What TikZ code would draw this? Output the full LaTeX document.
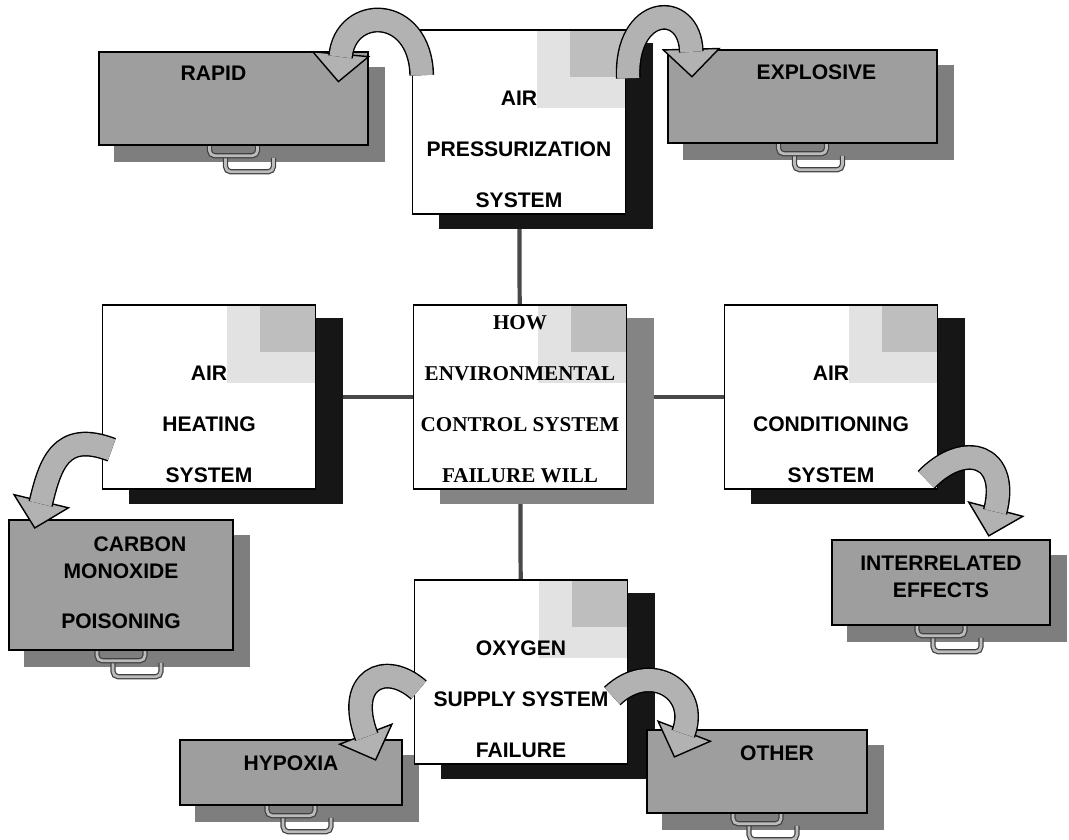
\documentclass[tikz,border=0pt]{standalone}
\usepackage{fontspec}
\setmainfont{Liberation Sans}
\newfontfamily\hubfont{Liberation Serif}
\usetikzlibrary{calc,backgrounds}
\definecolor{PaleGray}{RGB}{226,226,226}
\definecolor{MidGray}{RGB}{190,190,190}
\definecolor{DrawerFront}{RGB}{158,158,158}
\definecolor{DrawerBack}{RGB}{126,126,126}
\definecolor{ArrowGray}{RGB}{178,178,178}
\definecolor{LinkGray}{RGB}{72,72,72}
\definecolor{HubShade}{RGB}{132,132,132}
\definecolor{DarkShade}{RGB}{22,22,22}

% curved block arrow: tail, control 1, control 2, base of head
\newcommand\bentarrow[4]{%
  \coordinate (bs) at #1; \coordinate (bc1) at #2; \coordinate (bc2) at #3; \coordinate (be) at #4;
  \filldraw[arrowhead] ($(be)!0.56cm!90:(bc2)$) -- ($(be)!-0.55cm!(bc2)$) -- ($(be)!0.56cm!-90:(bc2)$) -- cycle;
  \draw[arrowshaft] (bs) .. controls (bc1) and (bc2) .. (be);
}

\begin{document}
\begin{tikzpicture}[x=0.02cm, y=-0.02cm,
  stipple/.style={path picture={
    \fill[PaleGray] ($(path picture bounding box.north east)+(-88,0)$) rectangle ($(path picture bounding box.north east)+(0,78)$);
    \fill[MidGray] ($(path picture bounding box.north east)+(-55,0)$) rectangle ($(path picture bounding box.north east)+(0,47)$);}},
  sysbox/.style={draw, line width=0.9pt, fill=white, inner sep=0pt, minimum width=4.26cm, minimum height=3.68cm, stipple},
  systxt/.style={align=center, font=\bfseries\fontsize{12}{29}\selectfont, yshift=-0.54cm},
  drawer/.style={draw, line width=0.9pt, fill=DrawerFront, inner sep=0pt},
  drawtxt/.style={align=center, font=\bfseries\fontsize{12}{15.5}\selectfont},
  handle/.style={draw=black!75, line width=0.7pt, double=DrawerFront!70!white, double distance=1.6pt, rounded corners=3pt},
  link/.style={draw=LinkGray, line width=2.4pt},
  arrowshaft/.style={draw=black, line width=0.8pt, double=ArrowGray, double distance=0.44cm, shorten >=-1.5pt},
  arrowhead/.style={draw=black, line width=0.8pt, fill=ArrowGray, line join=miter}]
\useasboundingbox (0,0) rectangle (1069,839);

% systems
\node[sysbox, label={[systxt]center:AIR\\PRESSURIZATION\\SYSTEM}] (press) at (519,122) {};
\node[sysbox, label={[systxt, font=\hubfont\bfseries\fontsize{12}{29}\selectfont, yshift=0.5cm]center:HOW\\ENVIRONMENTAL\\CONTROL SYSTEM\\FAILURE WILL}] (hub) at (520,397) {};
\node[sysbox, label={[systxt]center:AIR\\HEATING\\SYSTEM}] (heat) at (209,397) {};
\node[sysbox, label={[systxt]center:AIR\\CONDITIONING\\SYSTEM}] (cond) at (831,397) {};
\node[sysbox, label={[systxt]center:OXYGEN\\SUPPLY SYSTEM\\FAILURE}] (oxy) at (521,672) {};

% effects
\node[drawer, minimum width=5.38cm, minimum height=1.86cm, label={[drawtxt, xshift=-0.4cm, yshift=0.5cm]center:RAPID}] (rapid) at (233.5,98.5) {};
\node[drawer, minimum width=5.38cm, minimum height=1.86cm, label={[drawtxt, xshift=0.28cm, yshift=0.48cm]center:EXPLOSIVE}] (explosive) at (802.5,96.5) {};
\node[drawer, minimum width=4.48cm, minimum height=2.6cm, label={[drawtxt, yshift=0.04cm]center:\hspace*{0.76cm}CARBON\\MONOXIDE\\[13pt]POISONING}] (co) at (121,585) {};
\node[drawer, minimum width=4.36cm, minimum height=1.7cm, label={[drawtxt, yshift=0.12cm]center:INTERRELATED\\EFFECTS}] (inter) at (941,582.5) {};
\node[drawer, minimum width=4.44cm, minimum height=1.3cm, label={[drawtxt, yshift=0.19cm]center:HYPOXIA}] (hypoxia) at (291,772.5) {};
\node[drawer, minimum width=4.4cm, minimum height=1.66cm, label={[drawtxt, xshift=0.4cm, yshift=0.37cm]center:OTHER}] (other) at (757,771.5) {};

\begin{scope}[on background layer]
\draw[link] (press) -- (hub);
\draw[link] (heat) -- (hub);
\draw[link] (hub) -- (cond);
\draw[link] (hub) -- (oxy);
\foreach \sy in {press,heat,cond,oxy}
  \fill[DarkShade] ($(\sy.south west)+(27,14)$) rectangle ($(\sy.north east)+(27,14)$);
\fill[HubShade] ($(hub.south west)+(27,14)$) rectangle ($(hub.north east)+(27,14)$);
\foreach \dr in {rapid,explosive,co,inter,hypoxia,other}{
  \fill[DrawerBack] ($(\dr.south west)+(16,16)$) rectangle ($(\dr.north east)+(16,16)$);
  \draw[handle] ($(\dr.south)+(-8,12)$) -- ++(0,14) -- ++(48,0) -- ++(0,-14);
  \draw[handle] ($(\dr.south)+(-24,-4)$) -- ++(0,14) -- ++(48,0) -- ++(0,-14);
}
\end{scope}

% bent arrows
\bentarrow{($(press.north west)+(10,46)$)}{(420,5)}{(345,5)}{($(rapid.north east)+(-28,3)$)}
\bentarrow{($(press.north east)+(2,49)$)}{(625,5)}{(690,0)}{($(explosive.north west)+(24,0)$)}
\bentarrow{($(heat.south west)+(10,-40)$)}{(60,430)}{(50,465)}{($(co.north west)+(33,-18)$)}
\bentarrow{($(cond.south east)+(-12,-10)$)}{(965,440)}{(1010,455)}{($(inter.north east)+(-55,-30)$)}
\bentarrow{($(oxy.west)+(5,18)$)}{(385,660)}{(345,680)}{($(hypoxia.north east)+(-37,-5)$)}
\bentarrow{($(oxy.east)+(-16,24)$)}{(650,660)}{(700,690)}{($(other.north west)+(38,2)$)}
\end{tikzpicture}
\end{document}
